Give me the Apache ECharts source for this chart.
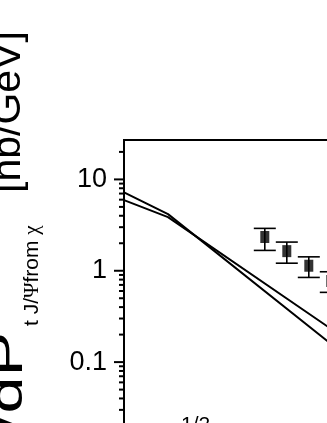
<!DOCTYPE html>
<html>
<head>
<meta charset="utf-8">
<script src="https://cdn.jsdelivr.net/npm/echarts@6/dist/echarts.min.js"></script>
<style>
html,body{margin:0;padding:0;background:#fff;}
#c{width:327px;height:423px;}
</style>
</head>
<body>
<div id="c"></div>
<script>
// Theory curves (P_t in GeV, dσ/dP_t in nb/GeV)
var ptTheory = [0, 2, 9.3];
var theoryA = [7.2, 4.17, 0.166];
var theoryB = [5.93, 3.87, 0.241];

// Data points with error bars
var ptData = [6.4, 7.4, 8.4, 9.4];
var dataVal = [2.34, 1.64, 1.135, 0.77];
var errLow = [1.67, 1.21, 0.845, 0.58];
var errHigh = [2.91, 2.06, 1.42, 0.975];

// Axis tick values (log axis)
var majorTicks = [0.001, 0.01, 0.1, 1, 10];
var minorTicks = [0.002, 0.003, 0.004, 0.005, 0.006, 0.007, 0.008, 0.009,
                  0.02, 0.03, 0.04, 0.05, 0.06, 0.07, 0.08, 0.09,
                  0.2, 0.3, 0.4, 0.5, 0.6, 0.7, 0.8, 0.9,
                  2, 3, 4, 5, 6, 7, 8, 9, 20];
var yMin = 0.001, yMax = 27;

var chart = echarts.init(document.getElementById('c'), null, {renderer: 'canvas'});

function pairs(xs, ys) { return xs.map(function (x, i) { return [x, ys[i]]; }); }

var tickData = majorTicks.map(function (v) { return [0, v, 10]; })
  .concat(minorTicks.map(function (v) { return [0, v, 5]; }));

var option = {
  animation: false,
  backgroundColor: '#fff',
  grid: {left: 124, top: 140, width: 440, height: 404.8, show: true,
         containLabel: false, outerBoundsMode: 'none',
         borderColor: '#000', borderWidth: 2, backgroundColor: 'transparent'},
  xAxis: {type: 'value', min: 0, max: 20,
          axisLine: {lineStyle: {color: '#000', width: 2}},
          axisTick: {show: false}, axisLabel: {show: false}, splitLine: {show: false}},
  yAxis: {type: 'log', logBase: 10, min: yMin, max: yMax,
          axisLine: {show: true, lineStyle: {color: '#000', width: 2}},
          axisTick: {show: false}, splitLine: {show: false},
          axisLabel: {color: '#000', fontSize: 27, fontFamily: '"Liberation Sans", Arial, sans-serif',
                      margin: 17, showMaxLabel: false,
                      formatter: function (v) {
                        var l = Math.log10(v);
                        if (Math.abs(l - Math.round(l)) > 1e-6) return '';
                        return v >= 1 ? String(Math.round(v)) : String(+v.toPrecision(1));
                      }}},
  series: [
    {type: 'line', data: pairs(ptTheory, theoryA), symbol: 'none',
     lineStyle: {color: '#000', width: 2}, z: 3},
    {type: 'line', data: pairs(ptTheory, theoryB), symbol: 'none',
     lineStyle: {color: '#000', width: 2}, z: 3},
    {type: 'custom', z: 4,
     data: ptData.map(function (x, i) { return [x, errLow[i], errHigh[i]]; }),
     encode: {x: 0, y: [1, 2]},
     renderItem: function (params, api) {
       var lo = api.coord([api.value(0), api.value(1)]);
       var hi = api.coord([api.value(0), api.value(2)]);
       var hw = 11;
       var st = {stroke: '#000', lineWidth: 1.6};
       return {type: 'group', children: [
         {type: 'line', shape: {x1: lo[0], y1: lo[1], x2: hi[0], y2: hi[1]}, style: st},
         {type: 'line', shape: {x1: lo[0] - hw, y1: lo[1], x2: lo[0] + hw, y2: lo[1]}, style: st},
         {type: 'line', shape: {x1: hi[0] - hw, y1: hi[1], x2: hi[0] + hw, y2: hi[1]}, style: st}
       ]};
     }},
    {type: 'scatter', data: pairs(ptData, dataVal), symbol: 'rect', symbolSize: [9, 12],
     itemStyle: {color: '#000'}, z: 5},
    {type: 'custom', clip: false, z: 6, silent: true,
     data: tickData, encode: {x: 0, y: 1},
     renderItem: function (params, api) {
       var p = api.coord([api.value(0), api.value(1)]);
       var len = api.value(2);
       return {type: 'line', shape: {x1: p[0] - len, y1: p[1], x2: p[0], y2: p[1]},
               style: {stroke: '#000', lineWidth: 2}};
     }}
  ],
  graphic: [
    {type: 'text', x: 9, y: 193, rotation: Math.PI / 2, z: 10,
     style: {text: '[nb/GeV]', font: '41px "Liberation Sans", Arial, sans-serif',
             fill: '#000', align: 'left', verticalAlign: 'middle'}},
    {type: 'text', x: 9, y: 332, rotation: Math.PI / 2, scaleX: 1.45, z: 10,
     style: {text: 'dσ/dP', font: '46px "Liberation Sans", Arial, sans-serif',
             fill: '#000', align: 'right', verticalAlign: 'middle'}},
    {type: 'text', x: 32, y: 326, rotation: Math.PI / 2, z: 10,
     style: {text: '{r|t J/}{g|Ψ}{r|from }{g|χ}', fill: '#000', align: 'left', verticalAlign: 'middle',
             rich: {r: {font: '21px "Liberation Sans", Arial, sans-serif', fill: '#000'},
                    g: {font: '21px "Liberation Serif", serif', fill: '#000'}}}},
    {type: 'text', x: 181, y: 415, z: 10,
     style: {text: '1/2', font: '21px "Liberation Sans", Arial, sans-serif',
             fill: '#000', align: 'left', verticalAlign: 'top'}}
  ]
};
chart.setOption(option);
</script>
</body>
</html>
